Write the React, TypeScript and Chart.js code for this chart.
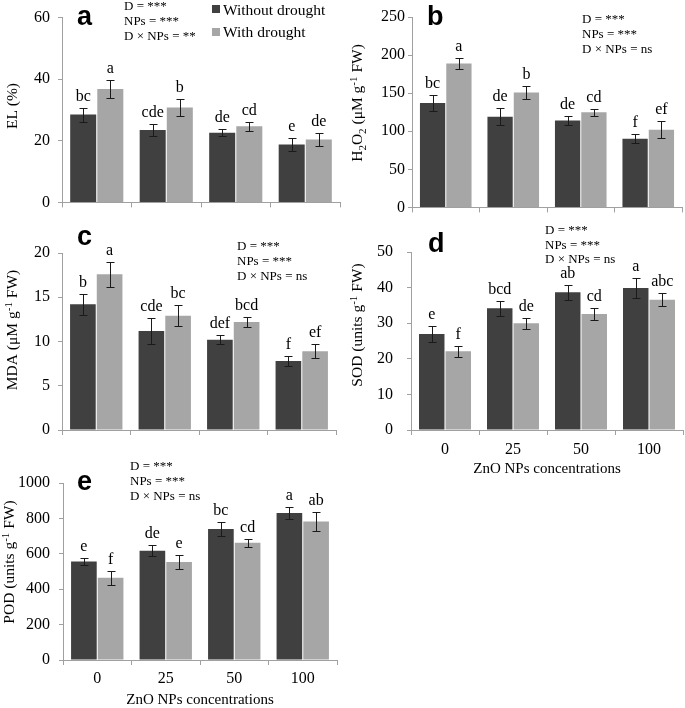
import React, { useEffect, useRef } from "react";
import { Chart, registerables } from "chart.js";
Chart.register(...registerables);

// ---------- data ----------
const categories = ["0", "25", "50", "100"];
const seriesNames = ["Without drought", "With drought"];
const xAxisTitle = "ZnO NPs concentrations";

const elWithout = [28.5, 23.5, 22.6, 18.8];
const elWith = [36.8, 30.8, 24.7, 20.4];
const elErrWithout = [2.3, 2.1, 1.2, 2.0];
const elErrWith = [3.0, 2.8, 1.5, 2.2];
const elLetWithout = ["bc", "cde", "de", "e"];
const elLetWith = ["a", "b", "cd", "de"];
const elStats = ["D = ***", "NPs = ***", "D × NPs = **"];

const h2o2Without = [137, 119, 114, 90];
const h2o2With = [189, 151, 125, 102];
const h2o2ErrWithout = [10, 11, 6, 6];
const h2o2ErrWith = [7, 9, 4.5, 11];
const h2o2LetWithout = ["bc", "de", "de", "f"];
const h2o2LetWith = ["a", "b", "cd", "ef"];
const h2o2Stats = ["D = ***", "NPs = ***", "D × NPs = ns"];

const mdaWithout = [14.2, 11.2, 10.2, 7.8];
const mdaWith = [17.6, 12.9, 12.2, 8.9];
const mdaErrWithout = [1.2, 1.5, 0.5, 0.55];
const mdaErrWith = [1.4, 1.2, 0.6, 0.8];
const mdaLetWithout = ["b", "cde", "def", "f"];
const mdaLetWith = ["a", "bc", "bcd", "ef"];
const mdaStats = ["D = ***", "NPs = ***", "D × NPs = ns"];

const sodWithout = [27, 34.2, 38.7, 39.9];
const sodWith = [22.1, 30, 32.6, 36.6];
const sodErrWithout = [2.2, 2.1, 2.1, 2.8];
const sodErrWith = [1.5, 1.6, 1.6, 1.9];
const sodLetWithout = ["e", "bcd", "ab", "a"];
const sodLetWith = ["f", "de", "cd", "abc"];
const sodStats = ["D = ***", "NPs = ***", "D × NPs = ns"];

const podWithout = [557, 617, 740, 830];
const podWith = [464, 553, 662, 783];
const podErrWithout = [22, 31, 39, 32];
const podErrWith = [40, 38, 22, 52];
const podLetWithout = ["e", "de", "bc", "a"];
const podLetWith = ["f", "e", "cd", "ab"];
const podStats = ["D = ***", "NPs = ***", "D × NPs = ns"];

// ---------- styles ----------
const SERIF = '"Liberation Serif", "Times New Roman", serif';
const SANS = '"Liberation Sans", Arial, sans-serif';
const DARK = "#404040";
const LIGHT = "#a6a6a6";
const AXIS = "#a0a0a0";

type Seg = { t: string; s?: "sub" | "sup" };

function drawRich(ctx: CanvasRenderingContext2D, segs: Seg[], cx: number, cy: number, size: number) {
  ctx.save();
  ctx.translate(cx, cy);
  ctx.rotate(-Math.PI / 2);
  const small = Math.round(size * 0.68);
  const fontOf = (s?: string) => `${s ? small : size}px ${SERIF}`;
  let total = 0;
  for (const g of segs) {
    ctx.font = fontOf(g.s);
    total += ctx.measureText(g.t).width;
  }
  let x = -total / 2;
  ctx.textBaseline = "alphabetic";
  ctx.textAlign = "left";
  ctx.fillStyle = "#000";
  const base = size * 0.33;
  for (const g of segs) {
    ctx.font = fontOf(g.s);
    const dy = g.s === "sub" ? size * 0.22 : g.s === "sup" ? -size * 0.36 : 0;
    ctx.fillText(g.t, x, base + dy);
    x += ctx.measureText(g.t).width;
  }
  ctx.restore();
}

type Panel = {
  id: string;
  letter: string;
  rect: { left: number; top: number; w: number; h: number };
  area: { left: number; right: number; top: number; bottom: number };
  yMax: number;
  step: number;
  yPad: number;
  without: number[];
  withD: number[];
  errs: number[][];
  letters: string[][];
  stats: string[];
  statsPos: { x: number; y: number; dy: number };
  letterPos: { x: number; y: number };
  yTitle: Seg[];
  yTitlePos: { x: number; y: number };
  showX: boolean;
  xTitlePad?: number;
  xTickPad?: number;
  legend?: boolean;
};

const panels: Panel[] = [
  {
    id: "a", letter: "a",
    rect: { left: 0, top: 0, w: 342, h: 220 },
    area: { left: 62, right: 340, top: 17, bottom: 208 },
    yMax: 60, step: 20, yPad: 8,
    without: elWithout, withD: elWith,
    errs: [elErrWithout, elErrWith], letters: [elLetWithout, elLetWith],
    stats: elStats, statsPos: { x: 124, y: 10, dy: 15 },
    letterPos: { x: 77, y: 25 },
    yTitle: [{ t: "EL (%)" }], yTitlePos: { x: 12, y: 106 },
    showX: false, legend: true,
  },
  {
    id: "b", letter: "b",
    rect: { left: 342, top: 0, w: 343, h: 220 },
    area: { left: 412, right: 682, top: 17, bottom: 210 },
    yMax: 250, step: 50, yPad: 3,
    without: h2o2Without, withD: h2o2With,
    errs: [h2o2ErrWithout, h2o2ErrWith], letters: [h2o2LetWithout, h2o2LetWith],
    stats: h2o2Stats, statsPos: { x: 582, y: 23, dy: 15 },
    letterPos: { x: 427, y: 25 },
    yTitle: [{ t: "H" }, { t: "2", s: "sub" }, { t: "O" }, { t: "2", s: "sub" }, { t: " (μM g" }, { t: "-1", s: "sup" }, { t: " FW)" }],
    yTitlePos: { x: 357, y: 103 },
    showX: false,
  },
  {
    id: "c", letter: "c",
    rect: { left: 0, top: 220, w: 342, h: 240 },
    area: { left: 62, right: 336, top: 253, bottom: 430 },
    yMax: 20, step: 5, yPad: 8,
    without: mdaWithout, withD: mdaWith,
    errs: [mdaErrWithout, mdaErrWith], letters: [mdaLetWithout, mdaLetWith],
    stats: mdaStats, statsPos: { x: 237, y: 250, dy: 15 },
    letterPos: { x: 77, y: 245 },
    yTitle: [{ t: "MDA (μM g" }, { t: "-1", s: "sup" }, { t: " FW)" }],
    yTitlePos: { x: 12, y: 330 },
    showX: false,
  },
  {
    id: "d", letter: "d",
    rect: { left: 342, top: 220, w: 343, h: 260 },
    area: { left: 411, right: 683, top: 252, bottom: 430 },
    yMax: 50, step: 10, yPad: 14,
    without: sodWithout, withD: sodWith,
    errs: [sodErrWithout, sodErrWith], letters: [sodLetWithout, sodLetWith],
    stats: sodStats, statsPos: { x: 545, y: 234, dy: 14.5 },
    letterPos: { x: 428, y: 252 },
    yTitle: [{ t: "SOD (units g" }, { t: "-1", s: "sup" }, { t: " FW)" }],
    yTitlePos: { x: 357, y: 325 },
    showX: true, xTitlePad: 3, xTickPad: 5,
  },
  {
    id: "e", letter: "e",
    rect: { left: 0, top: 455, w: 342, h: 253 },
    area: { left: 63, right: 337, top: 483, bottom: 660 },
    yMax: 1000, step: 200, yPad: 9,
    without: podWithout, withD: podWith,
    errs: [podErrWithout, podErrWith], letters: [podLetWithout, podLetWith],
    stats: podStats, statsPos: { x: 130, y: 470, dy: 15 },
    letterPos: { x: 77, y: 490 },
    yTitle: [{ t: "POD (units g" }, { t: "-1", s: "sup" }, { t: " FW)" }],
    yTitlePos: { x: 9, y: 562 },
    showX: true, xTitlePad: 0, xTickPad: 4,
  },
];

function PanelChart({ p }: { p: Panel }) {
  const ref = useRef<HTMLCanvasElement | null>(null);
  useEffect(() => {
    if (!ref.current) return;
    const { rect, area } = p;
    const ox = rect.left, oy = rect.top;
    const overlay = {
      id: "overlay" + p.id,
      afterDatasetsDraw(chart: any) {
        const ctx: CanvasRenderingContext2D = chart.ctx;
        const ys = chart.scales.y;
        ctx.save();
        chart.data.datasets.forEach((ds: any, di: number) => {
          const meta = chart.getDatasetMeta(di);
          meta.data.forEach((bar: any, i: number) => {
            const v = ds.data[i];
            const e = p.errs[di][i];
            const top = Math.round(ys.getPixelForValue(v + e)) + 0.5;
            const bot = Math.round(ys.getPixelForValue(v - e)) + 0.5;
            const bx = Math.round(bar.x) + 0.5;
            ctx.strokeStyle = "#1a1a1a";
            ctx.lineWidth = 1;
            ctx.beginPath();
            ctx.moveTo(bx, top); ctx.lineTo(bx, bot);
            ctx.moveTo(bx - 4, top); ctx.lineTo(bx + 4, top);
            ctx.moveTo(bx - 4, bot); ctx.lineTo(bx + 4, bot);
            ctx.stroke();
            ctx.fillStyle = "#000";
            ctx.font = `16px ${SERIF}`;
            ctx.textAlign = "center";
            ctx.textBaseline = "alphabetic";
            ctx.fillText(p.letters[di][i], bar.x, top - 8);
          });
        });
        // panel letter
        ctx.font = `bold 27px ${SANS}`;
        ctx.textAlign = "left";
        ctx.textBaseline = "alphabetic";
        ctx.fillStyle = "#000";
        ctx.fillText(p.letter, p.letterPos.x - ox, p.letterPos.y - oy);
        // stats
        ctx.font = `13px ${SERIF}`;
        p.stats.forEach((s, i) => {
          ctx.fillText(s, p.statsPos.x - ox, p.statsPos.y - oy + i * p.statsPos.dy);
        });
        // legend
        if (p.legend) {
          const items = [
            { name: seriesNames[0], color: DARK, sy: 5, ty: 15 },
            { name: seriesNames[1], color: LIGHT, sy: 28, ty: 37 },
          ];
          ctx.font = `15.5px ${SERIF}`;
          items.forEach((it) => {
            ctx.fillStyle = it.color;
            ctx.fillRect(212 - ox, it.sy - oy, 8, 8);
            ctx.fillStyle = "#000";
            ctx.fillText(it.name, 223 - ox, it.ty - oy);
          });
        }
        // y title
        drawRich(ctx, p.yTitle, p.yTitlePos.x - ox, p.yTitlePos.y - oy, 15.5);
        ctx.restore();
      },
    };
    const xH = rect.top + rect.h - area.bottom;
    const yW = area.left - rect.left;
    const chart = new Chart(ref.current, {
      type: "bar",
      data: {
        labels: categories,
        datasets: [
          { label: seriesNames[0], data: p.without, backgroundColor: DARK, borderWidth: 0, categoryPercentage: 0.78, barPercentage: 0.96 },
          { label: seriesNames[1], data: p.withD, backgroundColor: LIGHT, borderWidth: 0, categoryPercentage: 0.78, barPercentage: 0.96 },
        ],
      },
      options: {
        animation: false,
        responsive: false,
        devicePixelRatio: 1,
        layout: { padding: { left: 0, right: rect.left + rect.w - area.right, top: area.top - rect.top, bottom: 0 } },
        plugins: { legend: { display: false }, tooltip: { enabled: false } },
        scales: {
          x: {
            offset: true,
            grid: { offset: true, drawOnChartArea: false, drawTicks: true, tickLength: 5, color: AXIS },
            border: { display: true, color: AXIS },
            ticks: { display: p.showX, font: { family: SERIF, size: 16 }, color: "#000", padding: p.xTickPad ?? 5, maxRotation: 0 },
            title: {
              display: p.showX, text: xAxisTitle, color: "#000",
              font: { family: SERIF, size: 15, lineHeight: 1 },
              padding: { top: 0, bottom: p.xTitlePad ?? 0 },
            },
            afterFit: (s: any) => { s.height = xH; },
          },
          y: {
            min: 0, max: p.yMax,
            ticks: {
              stepSize: p.step, font: { family: SERIF, size: 16 }, color: "#000", padding: p.yPad,
              callback: (v: any) => String(v),
            },
            grid: { drawOnChartArea: false, drawTicks: true, tickLength: 4, color: AXIS },
            border: { display: true, color: AXIS },
            afterFit: (s: any) => { s.width = yW; },
          },
        },
      } as any,
      plugins: [overlay],
    });
    return () => chart.destroy();
  }, [p]);
  return (
    <canvas
      ref={ref}
      width={p.rect.w}
      height={p.rect.h}
      style={{ position: "absolute", left: p.rect.left, top: p.rect.top, width: p.rect.w, height: p.rect.h }}
    />
  );
}

export default function App() {
  return (
    <div style={{ position: "fixed", left: 0, top: 0, width: 685, height: 708, overflow: "hidden", background: "#fff" }}>
      {panels.map((p) => (
        <PanelChart key={p.id} p={p} />
      ))}
    </div>
  );
}
